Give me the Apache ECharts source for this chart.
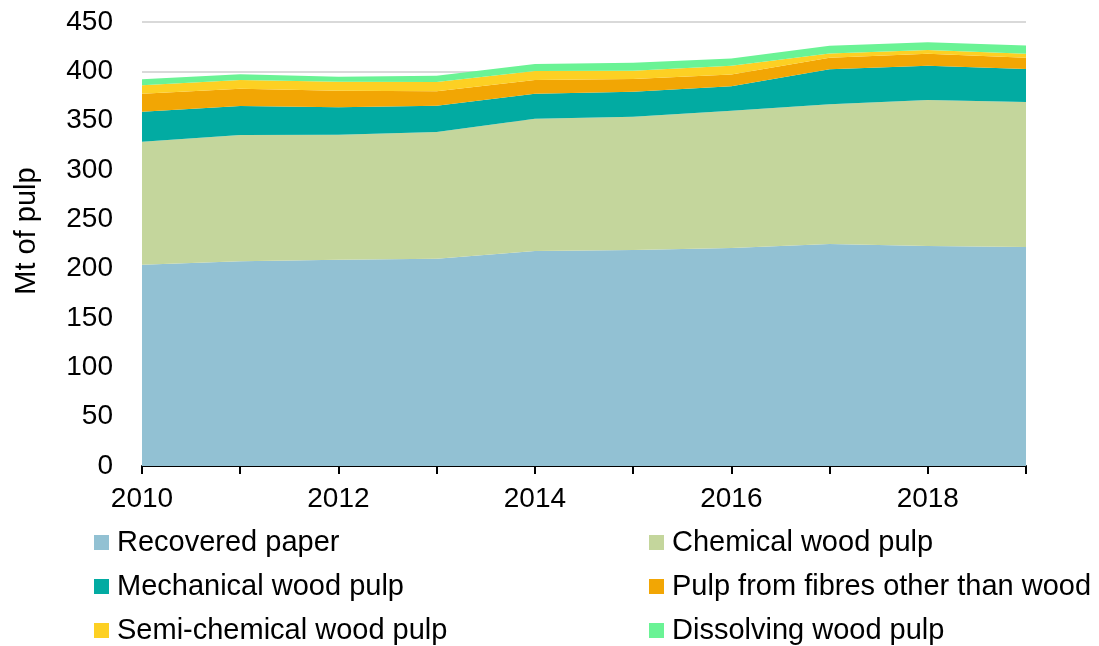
<!DOCTYPE html>
<html>
<head>
<meta charset="utf-8">
<script src="https://cdn.jsdelivr.net/npm/echarts@6/dist/echarts.min.js"></script>
<style>
html,body{margin:0;padding:0;background:#fff;}
#chart{width:1099px;height:646px;}
</style>
</head>
<body>
<div id="chart"></div>
<script>
const years = ['2010','2011','2012','2013','2014','2015','2016','2017','2018','2019'];
const recoveredPaper = [204, 207.5, 209, 210, 218, 219, 221, 225, 223, 222];
const chemicalWoodPulp = [124.7, 128, 126.8, 128.5, 134, 135, 139, 141.6, 147.9, 146.9];
const mechanicalWoodPulp = [30.4, 29.4, 27.7, 26.7, 25.3, 25.4, 25, 35.4, 34.8, 33.5];
const otherFibresPulp = [18.2, 17.5, 16.9, 14.5, 13.9, 12.8, 11.9, 11.8, 12.2, 11.4];
const semiChemicalPulp = [8.5, 8.8, 9.1, 9.5, 9.1, 8.5, 8.7, 4.4, 3.7, 4.1];
const dissolvingPulp = [6.1, 5.8, 5.1, 6.4, 7.1, 8.1, 7.5, 7.8, 7.8, 8.4];
const yTicks = [0, 50, 100, 150, 200, 250, 300, 350, 400, 450];
const yTitle = 'Mt of pulp';

const seriesDefs = [
  {name: 'Recovered paper', data: recoveredPaper, color: '#92C1D3'},
  {name: 'Chemical wood pulp', data: chemicalWoodPulp, color: '#C4D69C'},
  {name: 'Mechanical wood pulp', data: mechanicalWoodPulp, color: '#02ABA2'},
  {name: 'Pulp from fibres other than wood', data: otherFibresPulp, color: '#F2A604'},
  {name: 'Semi-chemical wood pulp', data: semiChemicalPulp, color: '#FDD023'},
  {name: 'Dissolving wood pulp', data: dissolvingPulp, color: '#6AF395'}
];

const font = 'Liberation Sans, Arial, sans-serif';
const chart = echarts.init(document.getElementById('chart'), null, {renderer: 'canvas'});

const legendCommon = {
  orient: 'vertical',
  top: 528,
  height: 140,
  itemWidth: 15,
  itemHeight: 15,
  itemGap: 15,
  icon: 'rect',
  textStyle: {fontFamily: font, fontSize: 29, color: '#000', padding: [4,0,0,3]},
  padding: 0
};

chart.setOption({
  animation: false,
  backgroundColor: '#fff',
  grid: {left: 142, right: 73, top: 22, bottom: 180, containLabel: false},
  legend: [
    Object.assign({}, legendCommon, {left: 94, data: [seriesDefs[0].name, seriesDefs[2].name, seriesDefs[4].name]}),
    Object.assign({}, legendCommon, {left: 649, data: [seriesDefs[1].name, seriesDefs[3].name, seriesDefs[5].name]})
  ],
  graphic: [{
    type: 'text',
    x: 27, y: 231,
    rotation: Math.PI / 2,
    style: {text: yTitle, fontFamily: font, fontSize: 29, fill: '#000', align: 'center', verticalAlign: 'middle'}
  }],
  xAxis: {
    type: 'category',
    data: years,
    boundaryGap: false,
    axisLine: {show: true, lineStyle: {color: '#000', width: 2}},
    axisTick: {show: true, length: 8, interval: 0, lineStyle: {color: '#000', width: 2}},
    axisLabel: {interval: 1, fontFamily: font, fontSize: 28, color: '#000', margin: 19},
    splitLine: {show: false}
  },
  yAxis: {
    type: 'value',
    min: yTicks[0],
    max: yTicks[yTicks.length - 1],
    interval: 50,
    axisLine: {show: false},
    axisTick: {show: false},
    axisLabel: {fontFamily: font, fontSize: 28, color: '#000', margin: 29},
    splitLine: {show: true, lineStyle: {color: '#D9D9D9', width: 2}}
  },
  series: seriesDefs.map(s => ({
    name: s.name,
    type: 'line',
    stack: 'total',
    data: s.data,
    symbol: 'none',
    showSymbol: false,
    lineStyle: {width: 0},
    areaStyle: {color: s.color, opacity: 1},
    itemStyle: {color: s.color},
    emphasis: {disabled: true}
  }))
});
</script>
</body>
</html>
